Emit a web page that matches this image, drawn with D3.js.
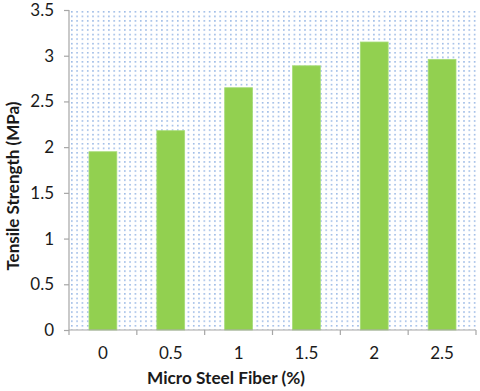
<!DOCTYPE html>
<html><head><meta charset="utf-8">
<script src="https://cdn.jsdelivr.net/npm/d3@7"></script>
<style>body{margin:0;background:#fff}svg{display:block}text{font-family:Lato,"Open Sans",sans-serif}</style>
</head><body>
<script>
const categories = ["0","0.5","1","1.5","2","2.5"];
const values = [1.95, 2.18, 2.65, 2.89, 3.15, 2.96];
const yTicks = [0,0.5,1,1.5,2,2.5,3,3.5];
const xTitle = "Micro Steel Fiber (%)";
const yTitle = "Tensile Strength (MPa)";

const W=480,H=391, m={l:69,r:4,t:10,b:61};
const svg=d3.select("body").append("svg").attr("width",W).attr("height",H);
const defs=svg.append("defs");
const pat=defs.append("pattern").attr("id","dots").attr("patternUnits","userSpaceOnUse")
  .attr("width",5.3).attr("height",4.55).attr("x",m.l+2).attr("y",m.t+1);
pat.append("rect").attr("x",0).attr("y",0).attr("width",1.6).attr("height",1.6).attr("fill","#9dbbe6");

const x=d3.scaleBand().domain(categories).range([m.l,W-m.r]).paddingInner(0.59).paddingOuter(0.295);
const xb=d3.scaleBand().domain(categories).range([m.l,W-m.r]);
const y=d3.scaleLinear().domain([0,3.5]).range([H-m.b,m.t]);

svg.append("rect").attr("x",m.l).attr("y",m.t).attr("width",W-m.r-m.l).attr("height",H-m.b-m.t).attr("fill","url(#dots)");

svg.append("g").selectAll("rect").data(values).join("rect")
  .attr("x",(d,i)=>x(categories[i])).attr("width",x.bandwidth())
  .attr("y",d=>y(d)).attr("height",d=>y(0)-y(d))
  .attr("fill","#92d050").attr("stroke","#a6dc78").attr("stroke-width",0.8);

const yAxis=svg.append("g").attr("transform",`translate(${m.l},0)`)
  .call(d3.axisLeft(y).tickValues(yTicks).tickFormat(d=>String(d)).tickSize(5).tickPadding(10));
const xAxis=svg.append("g").attr("transform",`translate(0,${H-m.b})`)
  .call(d3.axisBottom(xb).tickSize(0).tickPadding(17));
xAxis.selectAll(".bnd").data(d3.range(categories.length+1)).join("line").attr("class","bnd")
  .attr("x1",i=>m.l+i*xb.step()).attr("x2",i=>m.l+i*xb.step()).attr("y1",0).attr("y2",5)
  .attr("stroke","#a6a6a6");
[yAxis,xAxis].forEach(g=>{
  g.selectAll("path,line").attr("stroke","#a6a6a6").attr("stroke-width",1.2);
  g.selectAll("text").attr("font-size",17).attr("fill","#1a1a1a").attr("font-family","Lato,sans-serif");
});
xAxis.select(".domain").attr("d",`M${m.l},0H${W-m.r}`);
yAxis.select(".domain").attr("d",`M0,${H-m.b}V${m.t}`);

svg.append("text").attr("x",226).attr("y",384).attr("text-anchor","middle")
  .attr("font-size",17.2).attr("font-weight","bold").attr("fill","#1a1a1a").text(xTitle);
svg.append("text").attr("transform",`translate(19,186) rotate(-90)`).attr("text-anchor","middle")
  .attr("font-size",17).attr("font-weight","bold").attr("fill","#1a1a1a").text(yTitle);
</script>
</body></html>
